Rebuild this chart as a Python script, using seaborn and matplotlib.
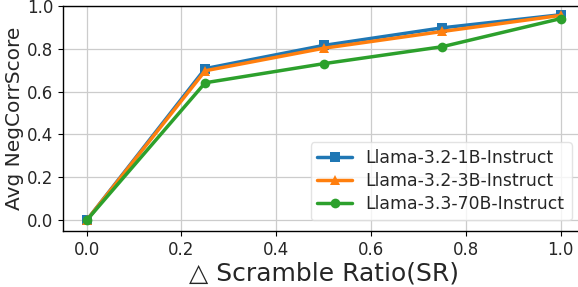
import matplotlib
matplotlib.use("Agg")
import matplotlib.pyplot as plt
import seaborn as sns
import pandas as pd

ratios = [0.0, 0.25, 0.5, 0.75, 1.0]
llama_1b = [0.0, 0.707, 0.815, 0.897, 0.958]
llama_3b = [0.0, 0.697, 0.802, 0.880, 0.955]
llama_70b = [0.0, 0.641, 0.730, 0.809, 0.940]
models = ["Llama-3.2-1B-Instruct", "Llama-3.2-3B-Instruct", "Llama-3.3-70B-Instruct"]

rows = []
for m, vals in zip(models, [llama_1b, llama_3b, llama_70b]):
    for r, v in zip(ratios, vals):
        rows.append({"SR": r, "score": v, "model": m})
df = pd.DataFrame(rows)

sns.set_style("ticks")
fig = plt.figure(figsize=(5.78, 2.87), dpi=100)
ax = fig.add_axes([0.109, 0.195, 0.902, 0.785])

palette = {models[0]: "#1f77b4", models[1]: "#ff7f0e", models[2]: "#2ca02c"}
markers = {models[0]: "s", models[1]: "^", models[2]: "o"}
sns.lineplot(data=df, x="SR", y="score", hue="model", style="model",
             palette=palette, markers=markers, dashes=False,
             linewidth=2.5, markersize=7, markeredgewidth=0, ax=ax)

ax.set_xlim(-0.05, 1.05)
ax.set_ylim(-0.05, 1.0)
ax.set_xticks([0.0, 0.2, 0.4, 0.6, 0.8, 1.0])
ax.set_yticks([0.0, 0.2, 0.4, 0.6, 0.8, 1.0])
ax.tick_params(labelsize=12, length=3.5, color="black")
ax.grid(True, color="#cccccc", linewidth=0.9)
for s in ax.spines.values():
    s.set_color("black")
    s.set_linewidth(1.0)
ax.set_xlabel("△ Scramble Ratio(SR)", fontsize=18, labelpad=2)
ax.set_ylabel("Avg NegCorrScore", fontsize=14.5, labelpad=2)

leg = ax.legend(loc="lower right", fontsize=12.4, handlelength=2.0,
                borderpad=0.4, labelspacing=0.3, frameon=True,
                bbox_to_anchor=(0.992, 0.01))
leg.get_frame().set_edgecolor("#dddddd")
for line in leg.get_lines():
    line.set_linewidth(2.5)

fig.savefig("out.png", dpi=100)
